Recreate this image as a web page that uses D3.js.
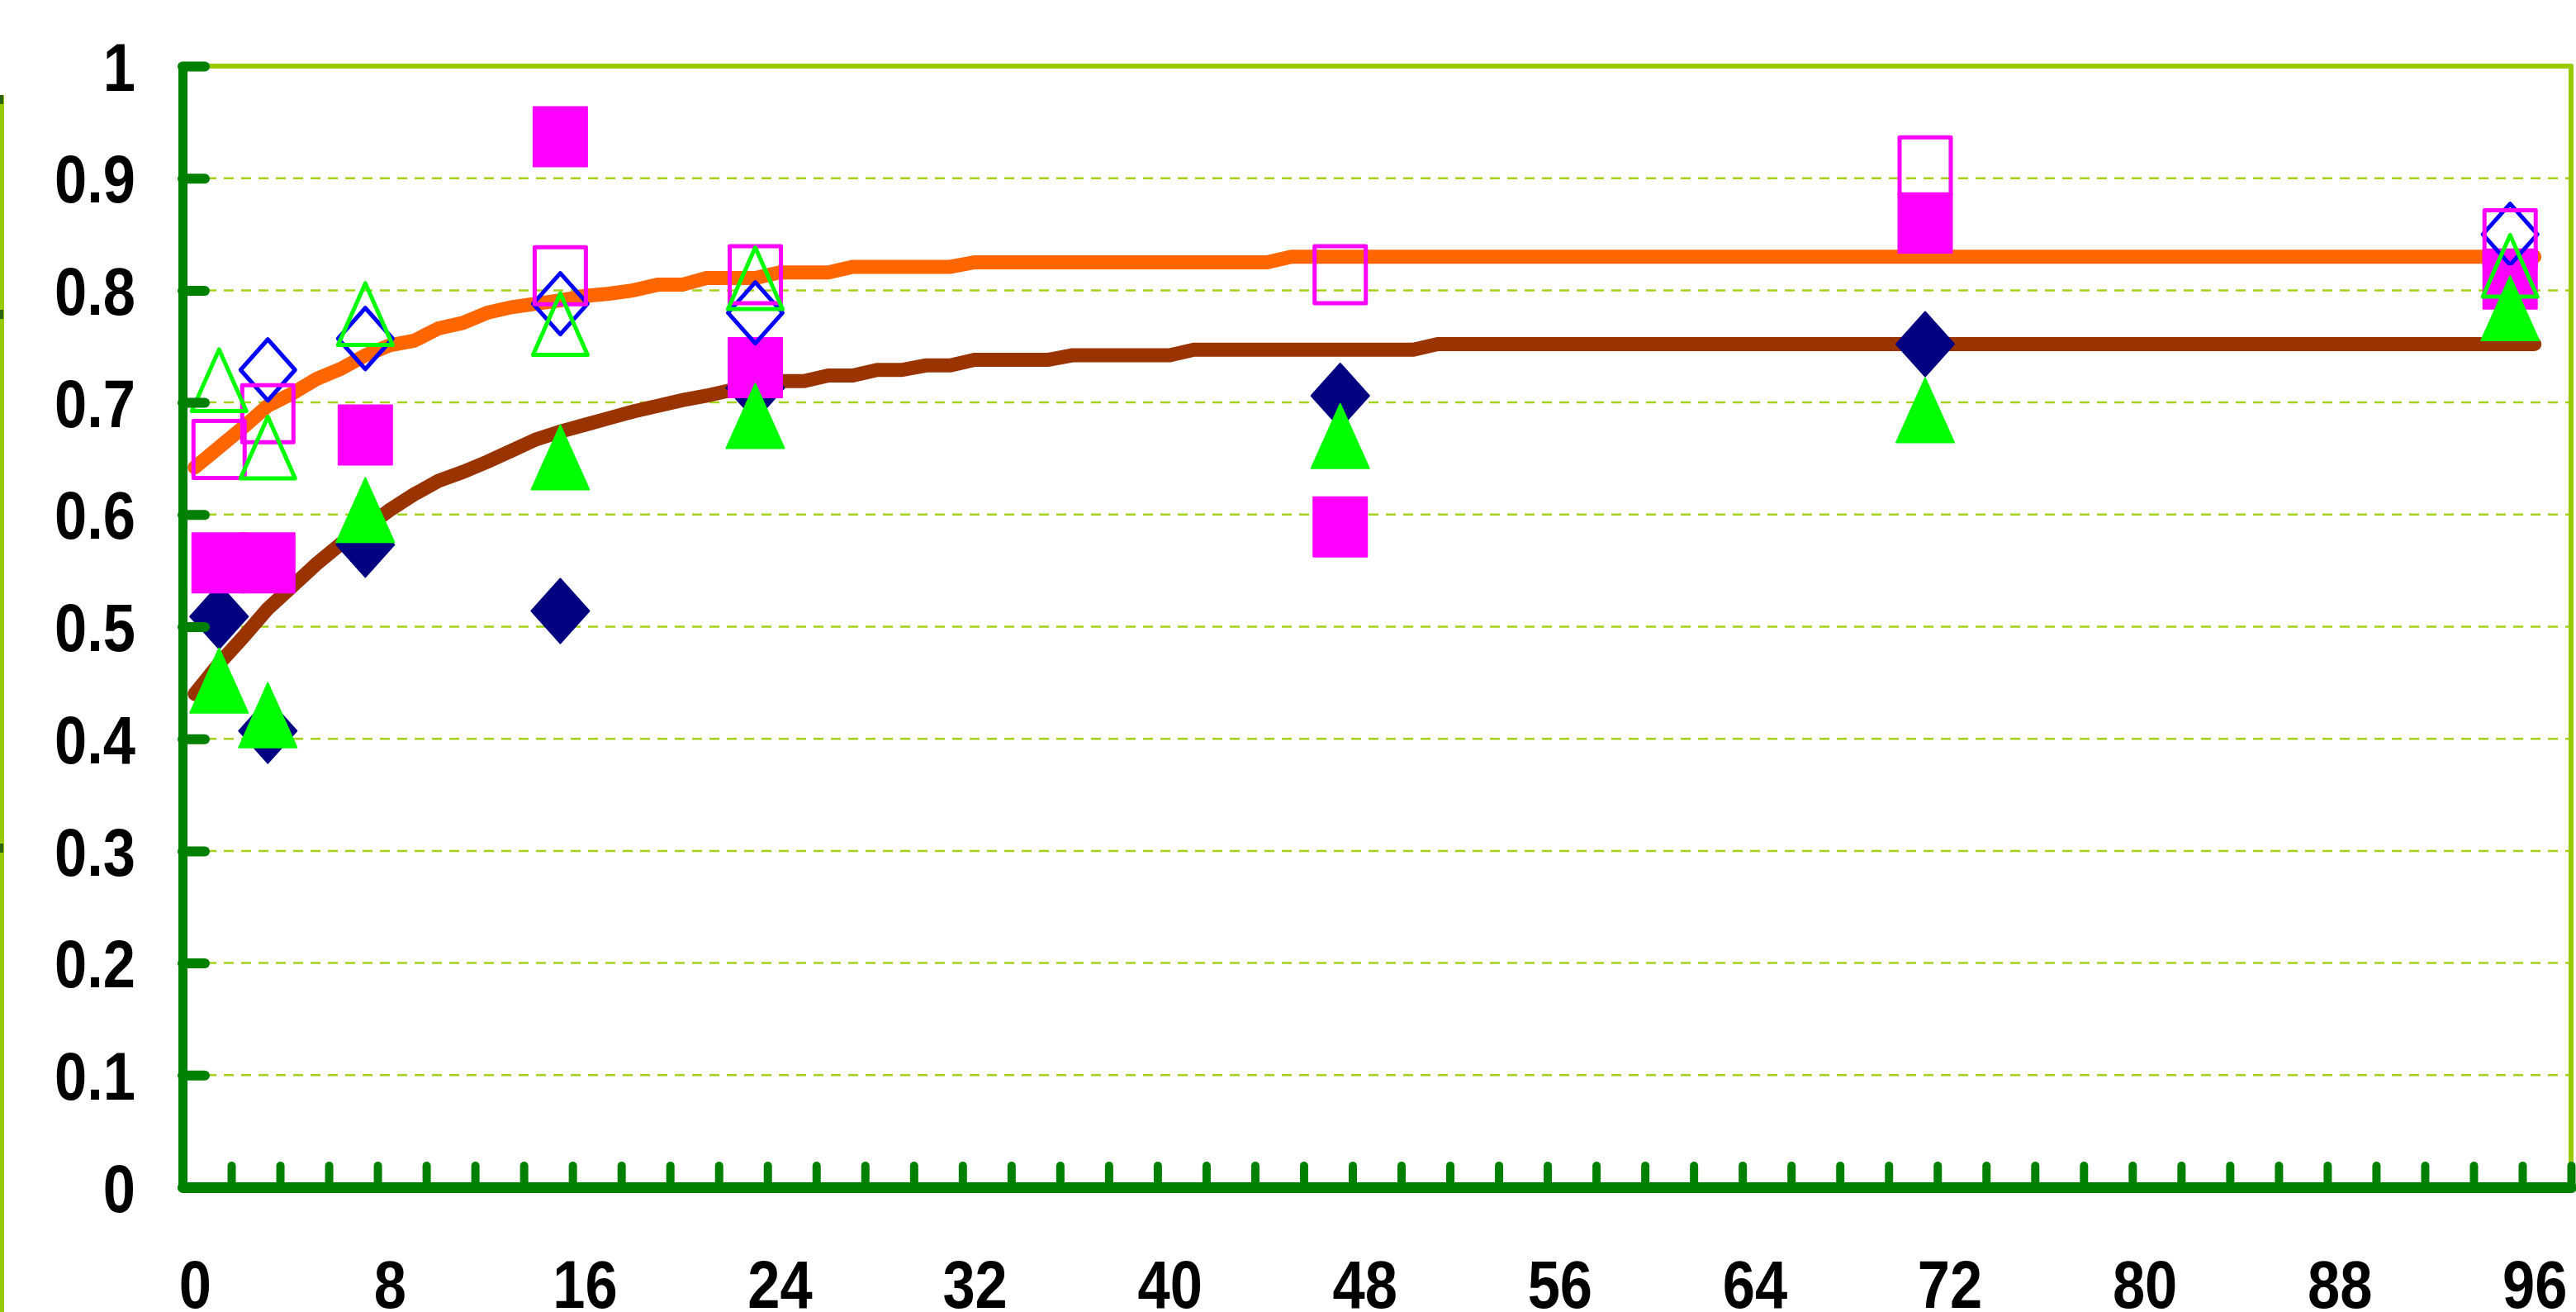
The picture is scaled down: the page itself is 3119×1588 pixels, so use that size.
<!DOCTYPE html>
<html>
<head>
<meta charset="utf-8">
<script src="https://cdn.jsdelivr.net/npm/d3@7"></script>
<style>
  body { margin: 0; background: #fff; }
  text { font-family: "Liberation Sans", Arial, sans-serif; font-weight: bold; }
</style>
</head>
<body>
<div id="chart"></div>
<script>
// sampling hours of the measured points
var hours = [1, 3, 7, 15, 23, 47, 71, 95];

// measured series (null = no marker)
var navyFilled    = [0.509, 0.407, 0.573, 0.514, 0.713, 0.706, 0.752, null];
var magentaFilled = [0.557, 0.557, 0.671, 0.937, 0.731, 0.589, 0.860, 0.810];
var greenFilled   = [0.452, 0.421, 0.604, 0.651, 0.688, 0.670, 0.693, 0.784];
var blueOpen      = [null, 0.729, 0.757, 0.788, 0.780, null, null, 0.850];
var magentaOpen   = [0.658, 0.690, null, 0.813, 0.814, 0.814, 0.911, 0.846];
var greenOpen     = [0.720, 0.660, 0.779, 0.770, 0.811, null, null, 0.822];

// fitted curves, vertices
var orangeHours = [0,1,2,3,4,5,6,7,8,9,10,11,12,13,14,15,16,17,18,19,20,21,22,23,24,25,26,27,31,32,44,45,96];
var orangeVals  = [0.642,0.660,0.678,0.697,0.708,0.721,0.730,0.742,0.751,0.755,0.766,0.771,0.780,0.785,0.788,0.791,0.795,0.797,0.800,0.805,0.805,0.811,0.811,0.811,0.816,0.816,0.816,0.821,0.821,0.825,0.825,0.830,0.830];
var brownHours  = [0,1,2,3,4,5,6,7,8,9,10,11,12,13,14,15,16,17,18,19,20,21,22,23,24,25,26,27,28,29,30,31,32,35,36,40,41,50,51,96];
var brownVals   = [0.440,0.467,0.491,0.516,0.536,0.556,0.574,0.588,0.604,0.618,0.630,0.638,0.647,0.657,0.667,0.674,0.680,0.686,0.692,0.697,0.702,0.706,0.711,0.716,0.719,0.719,0.724,0.724,0.729,0.729,0.733,0.733,0.738,0.738,0.742,0.742,0.747,0.747,0.752,0.752];

// axis ticks
var xLabelValues = [0, 8, 16, 24, 32, 40, 48, 56, 64, 72, 80, 88, 96];
var yTickValues = [0, 0.1, 0.2, 0.3, 0.4, 0.5, 0.6, 0.7, 0.8, 0.9, 1];

var width = 3119;
var height = 1588;
var squeeze = 0.87; // labels are set in a condensed face

var svg = d3.select("#chart")
  .append("svg")
  .attr("width", width)
  .attr("height", height);

var x = d3.scaleLinear()
  .domain([-0.5, 97.5])
  .range([221, 3113]);

var y = d3.scaleLinear()
  .domain([0, 1])
  .range([1437, 80]);

// remnant of the neighbouring chart at the left edge
svg.append("line")
  .attr("x1", 2.5).attr("x2", 2.5)
  .attr("y1", 115).attr("y2", height)
  .attr("stroke", "#99cc00")
  .attr("stroke-width", 5);
[115, 375, 1021].forEach(function(t) {
  svg.append("rect")
    .attr("x", 0).attr("y", t)
    .attr("width", 4).attr("height", 11)
    .attr("fill", "#2e6410");
});

// dashed gridlines
svg.append("g")
  .selectAll("line")
  .data(yTickValues.filter(function(d) { return d > 0 && d < 1; }))
  .enter()
  .append("line")
  .attr("x1", 250)
  .attr("x2", 3110)
  .attr("y1", function(d) { return y(d); })
  .attr("y2", function(d) { return y(d); })
  .attr("stroke", "#a4d21a")
  .attr("stroke-width", 2.5)
  .attr("stroke-dasharray", "12,9");

// top and right border
svg.append("path")
  .attr("d", "M" + x(-0.5) + "," + y(1) + "H" + x(97.5) + "V" + y(0))
  .attr("fill", "none")
  .attr("stroke", "#99cc00")
  .attr("stroke-width", 6)
  .attr("stroke-linejoin", "round");

// curves
var line = d3.line()
  .x(function(d) { return x(d[0]); })
  .y(function(d) { return y(d[1]); });

svg.append("path")
  .datum(d3.zip(brownHours, brownVals))
  .attr("d", line)
  .attr("fill", "none")
  .attr("stroke", "#993300")
  .attr("stroke-width", 17)
  .attr("stroke-linecap", "round");

svg.append("path")
  .datum(d3.zip(orangeHours, orangeVals))
  .attr("d", line)
  .attr("fill", "none")
  .attr("stroke", "#ff6600")
  .attr("stroke-width", 17)
  .attr("stroke-linecap", "round");

// markers
var shapes = {
  diamond: "M0,-39L35,0L0,39L-35,0Z",
  square: "M-32.5,-36H32.5V36H-32.5Z",
  triangle: "M0,-39L35,39L-35,39Z",
  diamondOpen: "M0,-37L33,0L0,37L-33,0Z",
  squareOpen: "M-31,-34.5H31V34.5H-31Z",
  triangleOpen: "M0,-37L33,37.5L-33,37.5Z"
};

function drawSeries(values, shape, color, open) {
  var pts = d3.zip(hours, values).filter(function(d) { return d[1] != null; });
  svg.append("g")
    .selectAll("path")
    .data(pts)
    .enter()
    .append("path")
    .attr("transform", function(d) { return "translate(" + x(d[0]) + "," + y(d[1]) + ")"; })
    .attr("d", shapes[shape])
    .attr("fill", open ? "none" : color)
    .attr("stroke", color)
    .attr("stroke-width", open ? 5 : 2)
    .attr("stroke-linejoin", "round");
}

drawSeries(navyFilled, "diamond", "#000080", false);
drawSeries(magentaFilled, "square", "#ff00ff", false);
drawSeries(greenFilled, "triangle", "#00ff00", false);
drawSeries(blueOpen, "diamondOpen", "#0000ff", true);
drawSeries(magentaOpen, "squareOpen", "#ff00ff", true);
drawSeries(greenOpen, "triangleOpen", "#00ff00", true);

// y axis
var yAxis = svg.append("g")
  .attr("transform", "translate(" + x(-0.5) + ",0)")
  .call(d3.axisLeft(y)
    .tickValues(yTickValues)
    .tickSizeInner(-27)
    .tickSizeOuter(0)
    .tickPadding(57)
    .tickFormat(d3.format(".1~f")));

yAxis.select(".domain")
  .attr("stroke", "#008000")
  .attr("stroke-width", 11)
  .attr("stroke-linecap", "round");
yAxis.selectAll(".tick line")
  .attr("stroke", "#008000")
  .attr("stroke-width", 12)
  .attr("stroke-linecap", "round");
yAxis.selectAll(".tick text")
  .attr("fill", "#000")
  .attr("dy", "0.36em")
  .attr("x", -57 / squeeze)
  .attr("transform", "scale(" + squeeze + ",1)")
  .style("font-size", "81px");

// x axis tick marks (between categories)
var xTicks = svg.append("g")
  .attr("transform", "translate(0," + y(0) + ")")
  .call(d3.axisBottom(x)
    .tickValues(d3.range(-0.5, 98, 2))
    .tickSizeInner(-26)
    .tickSizeOuter(0)
    .tickFormat(""));

xTicks.select(".domain")
  .attr("stroke", "#008000")
  .attr("stroke-width", 13)
  .attr("stroke-linecap", "round");
xTicks.selectAll(".tick line")
  .attr("stroke", "#008000")
  .attr("stroke-width", 10)
  .attr("stroke-linecap", "round");

// x axis labels
var xLabels = svg.append("g")
  .attr("transform", "translate(0," + y(0) + ")")
  .call(d3.axisBottom(x)
    .tickValues(xLabelValues)
    .tickSize(0)
    .tickPadding(88)
    .tickFormat(d3.format("d")));

xLabels.select(".domain").remove();
xLabels.selectAll(".tick text")
  .attr("fill", "#000")
  .attr("transform", "scale(" + squeeze + ",1)")
  .style("font-size", "81px");
</script>
</body>
</html>
